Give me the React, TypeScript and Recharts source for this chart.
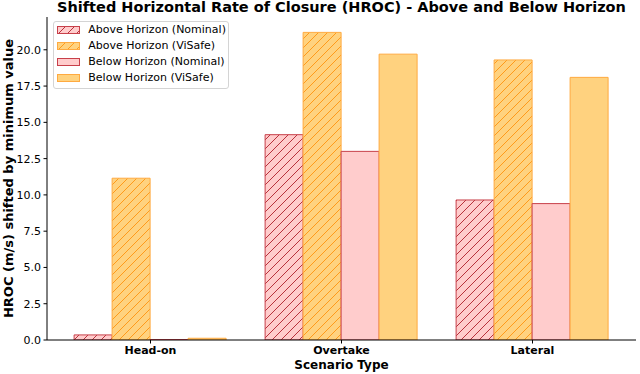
import React from 'react';
import { BarChart, Bar, XAxis, YAxis, Label } from 'recharts';

const categories = ['Head-on', 'Overtake', 'Lateral'];
const aboveNominal = [0.35, 14.15, 9.65];
const aboveViSafe = [11.15, 21.2, 19.3];
const belowNominal = [0.03, 13.0, 9.4];
const belowViSafe = [0.12, 19.7, 18.1];
const yTicks = [0, 2.5, 5, 7.5, 10, 12.5, 15, 17.5, 20];
const yMax = 22.26;

const title = 'Shifted Horizontal Rate of Closure (HROC) - Above and Below Horizon';
const xLabel = 'Scenario Type';
const yLabel = 'HROC (m/s) shifted by minimum value';

const data = categories.map((c, i) => ({
  category: c,
  aboveNominal: aboveNominal[i],
  aboveViSafe: aboveViSafe[i],
  belowNominal: belowNominal[i],
  belowViSafe: belowViSafe[i],
}));

const series = [
  { key: 'aboveNominal', name: 'Above Horizon (Nominal)', fill: 'url(#hatchNominal)', stroke: '#c8404a' },
  { key: 'aboveViSafe', name: 'Above Horizon (ViSafe)', fill: 'url(#hatchViSafe)', stroke: '#ffaa40' },
  { key: 'belowNominal', name: 'Below Horizon (Nominal)', fill: '#ffcccc', stroke: '#c8404a' },
  { key: 'belowViSafe', name: 'Below Horizon (ViSafe)', fill: '#ffd27f', stroke: '#ffaa40' },
];

const FONT = 'DejaVu Sans';

function Patterns() {
  return (
    <svg width={0} height={0} style={{ position: 'absolute' }}>
      <defs>
        <pattern id="hatchNominal" patternUnits="userSpaceOnUse" width={9} height={9}>
          <rect width={9} height={9} fill="#ffcccc" />
          <path d="M0,9 L9,0 M-2.25,2.25 L2.25,-2.25 M6.75,11.25 L11.25,6.75" stroke="#b8323c" strokeWidth={1} />
        </pattern>
        <pattern id="hatchViSafe" patternUnits="userSpaceOnUse" width={9} height={9}>
          <rect width={9} height={9} fill="#ffd27f" />
          <path d="M0,9 L9,0 M-2.25,2.25 L2.25,-2.25 M6.75,11.25 L11.25,6.75" stroke="#ff9a1a" strokeWidth={1} />
        </pattern>
      </defs>
    </svg>
  );
}

function LegendBox() {
  const centers = [9.3, 25.2, 41.1, 57];
  return (
    <div
      style={{
        position: 'absolute',
        left: 53,
        top: 21,
        width: 176,
        height: 68,
        boxSizing: 'border-box',
        border: '1px solid #d4d4d4',
        borderRadius: 3,
        background: 'rgba(255,255,255,0.8)',
      }}
    >
      {series.map((s, i) => (
        <div
          key={s.key}
          style={{
            position: 'absolute',
            left: 2.7,
            top: centers[i] - 1 - 8,
            height: 16,
            display: 'flex',
            alignItems: 'center',
            whiteSpace: 'nowrap',
          }}
        >
          <svg width={23} height={8} style={{ display: 'block' }}>
            <rect x={0.5} y={0.5} width={22} height={7} fill={s.fill} stroke={s.stroke} strokeWidth={1} />
          </svg>
          <span style={{ marginLeft: 8.6, fontFamily: FONT, fontSize: 11, color: '#000', lineHeight: '16px' }}>
            {s.name}
          </span>
        </div>
      ))}
    </div>
  );
}

export default function App() {
  return (
    <div style={{ position: 'absolute', left: 0, top: 0, width: 640, height: 374, background: '#fff' }}>
      <Patterns />
      <BarChart
        width={640}
        height={374}
        data={data}
        margin={{ top: 17, right: 4, bottom: 0, left: 0 }}
        barCategoryGap="10%"
        barGap={0}
      >
        <XAxis
          dataKey="category"
          height={34}
          padding={{ left: 8, right: 8 }}
          tickSize={3.5}
          tickMargin={3}
          axisLine={{ stroke: '#000', strokeWidth: 1 }}
          tickLine={{ stroke: '#000' }}
          tick={{ fontFamily: FONT, fontSize: 11, fontWeight: 'bold', fill: '#000' }}
        >
          <Label
            value={xLabel}
            position="insideBottom"
            offset={5}
            style={{ fontFamily: FONT, fontSize: 12, fontWeight: 'bold', fill: '#000' }}
          />
        </XAxis>
        <XAxis
          xAxisId="top"
          dataKey="category"
          orientation="top"
          height={0}
          tick={false}
          tickLine={false}
          axisLine={{ stroke: '#000', strokeWidth: 1 }}
        />
        <YAxis
          width={47}
          domain={[0, yMax]}
          ticks={yTicks}
          tickFormatter={(v: number) => v.toFixed(1)}
          tickSize={3.5}
          tickMargin={2.5}
          allowDataOverflow
          axisLine={{ stroke: '#000', strokeWidth: 1 }}
          tickLine={{ stroke: '#000' }}
          tick={{ fontFamily: FONT, fontSize: 11, fill: '#000' }}
          label={{
            content: (props: any) => {
              const vb = props.viewBox || { x: 0, y: 17, width: 47, height: 323 };
              const cx = 12.5;
              const cy = vb.y + vb.height / 2;
              return (
                <text
                  x={cx}
                  y={cy}
                  transform={`rotate(-90 ${cx} ${cy})`}
                  textAnchor="middle"
                  style={{ fontFamily: FONT, fontSize: 13, fontWeight: 'bold', fill: '#000' }}
                >
                  {yLabel}
                </text>
              );
            },
          }}
        />
        <YAxis
          yAxisId="right"
          orientation="right"
          width={0}
          domain={[0, yMax]}
          tick={false}
          tickLine={false}
          axisLine={{ stroke: '#000', strokeWidth: 1 }}
        />
        {series.map((s) => (
          <Bar
            key={s.key}
            dataKey={s.key}
            name={s.name}
            fill={s.fill}
            stroke={s.stroke}
            strokeWidth={1}
            isAnimationActive={false}
          />
        ))}
      </BarChart>
      <svg width={640} height={30} style={{ position: 'absolute', left: 0, top: 0 }}>
        <text
          x={341.5}
          y={11.5}
          textAnchor="middle"
          style={{ fontFamily: FONT, fontSize: 14.5, fontWeight: 'bold', fill: '#000' }}
        >
          {title}
        </text>
      </svg>
      <LegendBox />
    </div>
  );
}
